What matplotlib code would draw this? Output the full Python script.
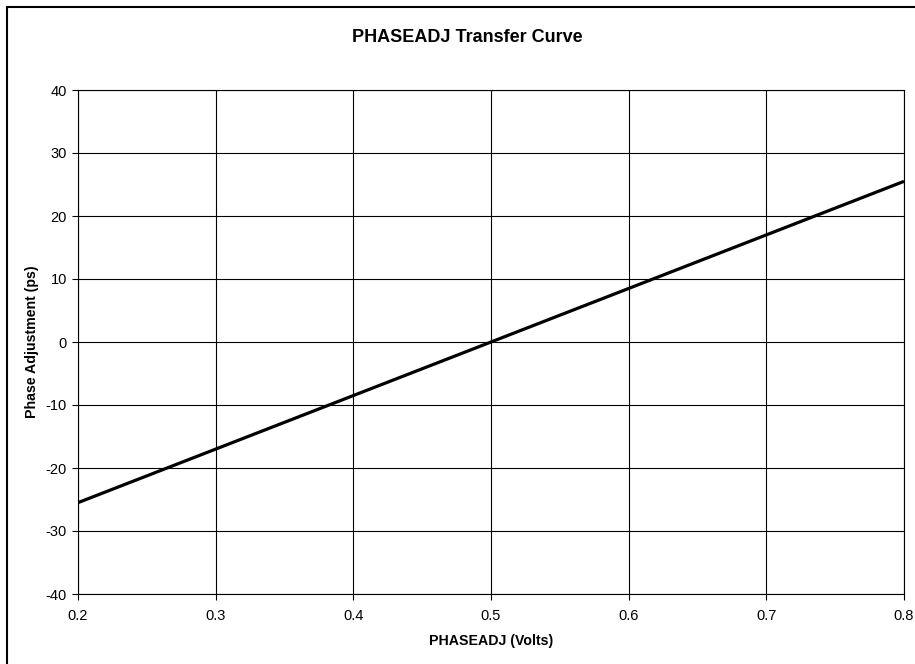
import numpy as np
import matplotlib.pyplot as plt
from matplotlib.patches import Rectangle

plt.rcParams['font.family'] = ['Liberation Sans', 'DejaVu Sans']
plt.rcParams['axes.unicode_minus'] = False

# data
volts = [0.2, 0.3, 0.4, 0.5, 0.6, 0.7, 0.8]
phase_ps = [-25.5, -17.0, -8.5, 0.0, 8.5, 17.0, 25.5]

xticks = [0.2, 0.3, 0.4, 0.5, 0.6, 0.7, 0.8]
yticks = [-40, -30, -20, -10, 0, 10, 20, 30, 40]

fig = plt.figure(figsize=(9.15, 6.64), dpi=100)
ax = fig.add_axes([78/915, 1-594/664, (904-78)/915, (594-90)/664])

ax.plot(volts, phase_ps, color='black', lw=2.3, solid_capstyle='butt')

ax.set_xlim(0.2, 0.8)
ax.set_ylim(-40, 40)
ax.set_xticks(xticks)
ax.set_xticklabels([f"{v:.1f}" for v in xticks])
ax.set_yticks(yticks)
ax.grid(True, color='black', lw=0.8)
for s in ax.spines.values():
    s.set_color('black')
    s.set_linewidth(0.8)
ax.tick_params(direction='out', length=4, width=0.8, labelsize=10.5)
ax.tick_params(axis='x', pad=7)
ax.tick_params(axis='y', pad=4)

# axis labels and title placed like the original
fig.text(491/915, 1-641/664, "PHASEADJ (Volts)", ha='center', va='center',
         fontsize=10.2, fontweight='bold')
fig.text(32/915, 1-342/664, "Phase Adjustment (ps)", ha='center', va='center',
         rotation=90, fontsize=10.2, fontweight='bold')
fig.text(467/915, 1-38/664, "PHASEADJ Transfer Curve", ha='center', va='center',
         fontsize=13, fontweight='bold')

# outer chart border
fig.patches.append(Rectangle((7/915, -0.02), 1.1, 1-7/664+0.02, transform=fig.transFigure,
                             fill=False, edgecolor='black', lw=1.5))

fig.savefig("out.png", dpi=100)
